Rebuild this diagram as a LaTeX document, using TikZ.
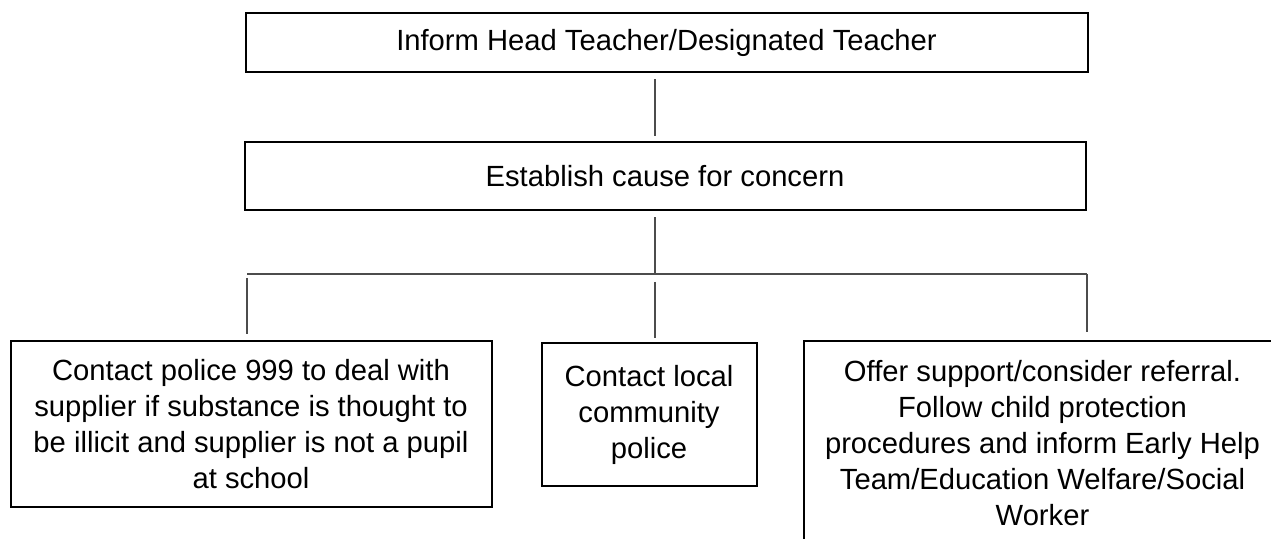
\documentclass[tikz,border=0pt]{standalone}
\usepackage{fontspec}
\setmainfont{Liberation Sans}
\usepackage{tikz}

\tikzset{
  box/.style={draw=black, line width=1pt, align=center, inner sep=0pt,
    font=\fontsize{14.6}{18}\selectfont},
  link/.style={draw=black!70, line width=0.6pt}
}

\begin{document}
\begin{tikzpicture}[x=0.5pt, y=-0.5pt]
        \clip (0,0) rectangle (1271,539);

        % boxes
        \node[box, minimum width=421pt, minimum height=29.5pt] (Inf) at (666.5,43) {Inform Head Teacher/Designated Teacher};
        \node[box, minimum width=420.5pt, minimum height=34pt] (Est) at (665,176.5) {Establish cause for concern};
        \node[box, minimum width=240.5pt, minimum height=83pt] (P1) at (251,424.5) {Contact police 999 to deal with\\supplier if substance is thought to\\be illicit and supplier is not a pupil\\at school};
        \node[box, minimum width=107.5pt, minimum height=71.5pt] (P2) at (649,415) {Contact local\\community\\police};
        \node[box, minimum width=239pt, minimum height=102.5pt] (P3) at (1042.5,443.5) {Offer support/consider referral.\\Follow child protection\\procedures and inform Early Help\\Team/Education Welfare/Social\\Worker};

        % edges
        \coordinate (J) at (655,274);
        \coordinate (JL) at (247,274);
        \coordinate (JR) at (1087,274);
        \draw[link, shorten <=3pt, shorten >=2.5pt] (Inf.south -| J) -- (Est.north -| J);
        \draw[link, shorten <=3pt] (Est.south -| J) -- (J);
        \draw[link] (JL) -- (JR);
        \draw[link, shorten <=2pt, shorten >=3pt] (JL) -- (JL |- P1.north);
        \draw[link, shorten <=4pt, shorten >=2pt] (J) -- (J |- P2.north);
        \draw[link, shorten >=4pt] (JR) -- (JR |- P3.north);
\end{tikzpicture}
\end{document}
